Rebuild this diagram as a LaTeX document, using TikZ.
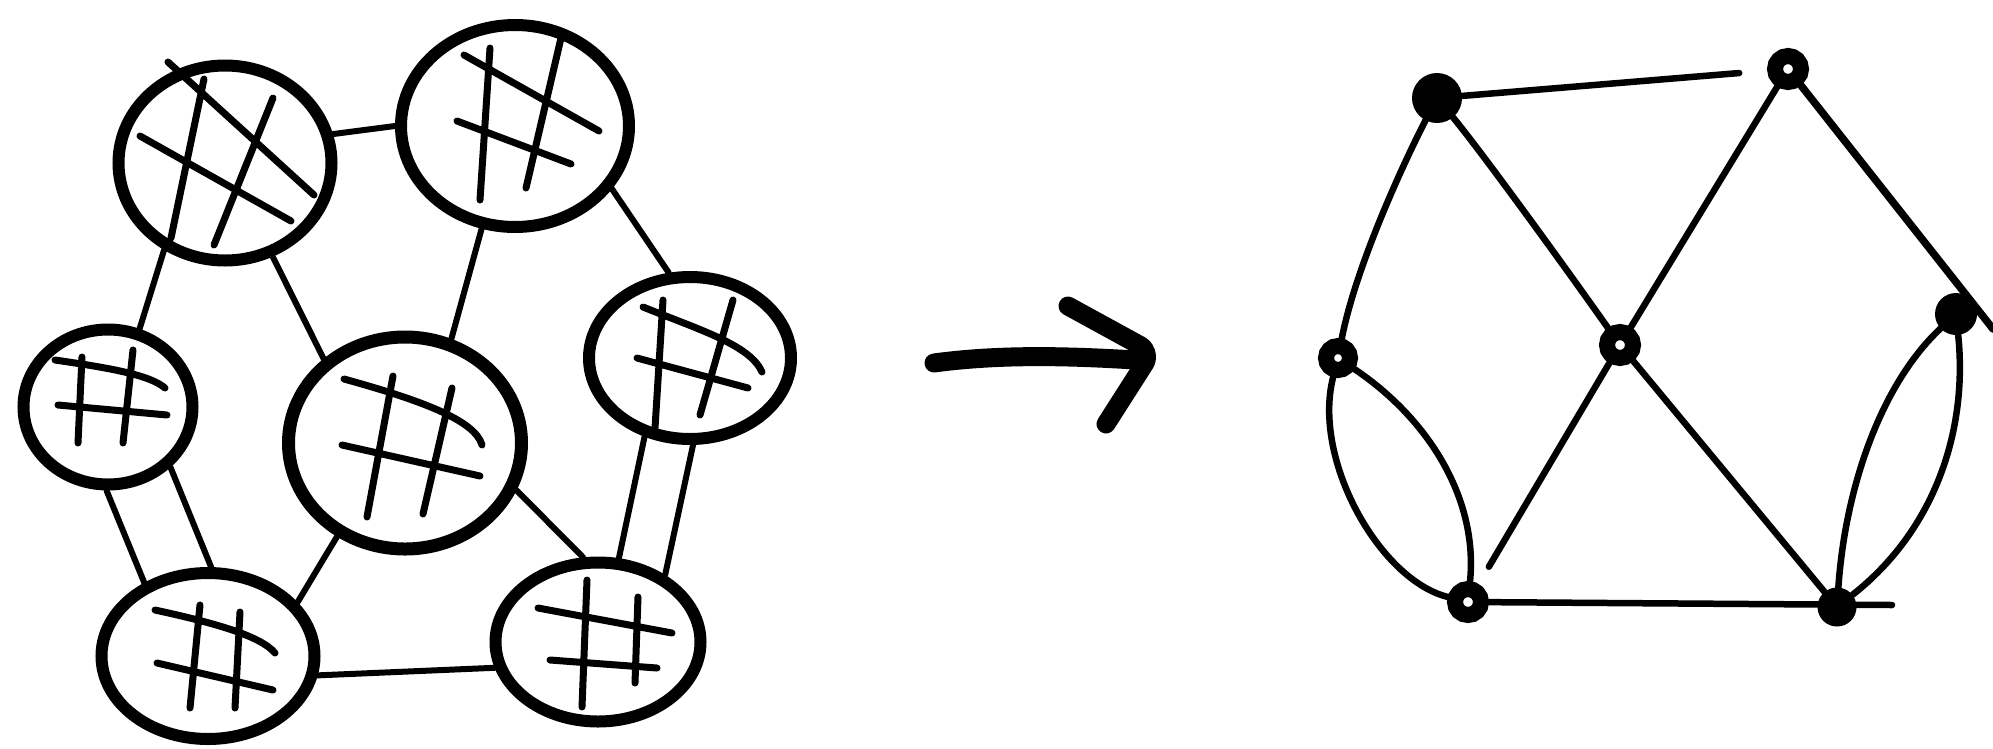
\documentclass[tikz,border=0pt]{standalone}
\usetikzlibrary{shapes.geometric,backgrounds}
\begin{document}
\begin{tikzpicture}[x=1pt,y=-1pt,
  cell/.style={ellipse, draw, line width=12pt, inner sep=0pt},
  link/.style={line width=6pt, line cap=round},
  hash/.style={line width=7pt, line cap=round},
  gedge/.style={line width=6.5pt, line cap=round},
  vfill/.style={circle, fill, draw, line width=2pt, minimum size=42pt, inner sep=0pt},
  vring/.style={circle, draw, fill=white, line width=16pt, minimum size=26pt, inner sep=0pt},
  bigarrow/.style={line width=19pt, line cap=round, line join=round},
]
\useasboundingbox (0,0) rectangle (1993,748);

% ---------- left: cells ----------
\node[cell, minimum width=213pt, minimum height=195pt] (c1) at (225,163) {};
\node[cell, minimum width=228pt, minimum height=202pt] (c2) at (515,126) {};
\node[cell, minimum width=169pt, minimum height=155pt] (c3) at (108,407) {};
\node[cell, minimum width=233pt, minimum height=212pt, line width=13pt] (c4) at (405,443) {};
\node[cell, minimum width=202pt, minimum height=162pt] (c5) at (690,358) {};
\node[cell, minimum width=213pt, minimum height=166pt] (c6) at (208,656) {};
\node[cell, minimum width=205pt, minimum height=159pt] (c7) at (598,642) {};

% hash marks
\draw[hash] (168,62) -- (314,195) (140,136) -- (291,221) (204,79) -- (171,238) (273,98) -- (214,245);
\draw[hash] (464,55) -- (599,131) (457,121) -- (571,164) (490,48) -- (480,200) (561,38) -- (526,188);
\draw[hash] (55,360) .. controls (110,368) and (150,375) .. (165,388) (58,405) -- (167,415) (82,357) -- (78,443) (133,350) -- (123,443);
\draw[hash] (344,379) .. controls (420,400) and (475,420) .. (482,445) (342,445) -- (480,476) (393,376) -- (367,517) (452,388) -- (423,514);
\draw[hash] (643,307) .. controls (700,330) and (750,345) .. (762,372) (637,358) -- (748,388) (663,300) -- (655,428) (733,300) -- (700,415);
\draw[hash] (155,610) .. controls (210,622) and (260,635) .. (275,653) (157,663) -- (273,690) (200,605) -- (190,708) (240,612) -- (235,708);
\draw[hash] (538,608) -- (672,633) (550,660) -- (657,668) (587,580) -- (582,707) (638,597) -- (635,683);

% links
\draw[link] (c1.15) -- (c2.180);
\draw[link] (c1.-125) -- (c3.68);
\draw[link] (c1.-63) -- (c4.134);
\draw[link] (c2.-108) -- (c4.66);
\draw[link] (c2.-33) -- (c5.104);
\draw[link] (c3.-91) -- (c6.131);
\draw[link] (c3.-44) -- (c6.88);
\draw[link] (c4.-126) -- (c6.31);
\draw[link] (c4.-23) -- (c7.100);
\draw[link] (c5.-120) -- (c7.76);
\draw[link] (c5.-88) -- (c7.45);
\draw[link] (c6.-10) -- (c7.-166);

% ---------- arrow ----------
\coordinate (a0) at (934,363);
\coordinate (a1) at (1135,360);
\draw[bigarrow] (a0) .. controls (1000,354) and (1070,356) .. (a1);
\draw[bigarrow, rounded corners=14pt] (1068,306) -- (1152,352) -- (1106,424);

% ---------- right: graph ----------
\node[vfill, minimum size=48pt] (A) at (1437,98) {};
\node[vring] (B) at (1788,69) {};
\node[vring, minimum size=24pt] (C) at (1338,358) {};
\node[vring] (D) at (1620,345) {};
\node[vfill, minimum size=40pt] (E) at (1956,314) {};
\node[vring] (F) at (1468,602) {};
\node[vfill, minimum size=37pt] (G) at (1837,607) {};
\coordinate (Bx) at (1993,329);
\coordinate (Gx) at (1892,605);

\begin{scope}[on background layer]
\draw[gedge, shorten >=28pt] (A) -- (B);
\draw[gedge] (A) .. controls (1400,170) and (1355,270) .. (C);
\draw[gedge] (A) .. controls (1480,150) and (1560,260) .. (D);
\draw[gedge] (B) -- (D);
\draw[gedge, line width=7.5pt] (B) -- (Bx);
\draw[gedge] (C) .. controls (1312,460) and (1380,580) .. (F);
\draw[gedge] (C) .. controls (1430,420) and (1478,500) .. (F);
\draw[gedge, shorten >=20pt] (D) -- (F);
\draw[gedge] (D) -- (G);
\draw[gedge] (F) -- (Gx);
\draw[gedge] (E) .. controls (1880,385) and (1845,490) .. (G);
\draw[gedge] (E) .. controls (1968,430) and (1935,530) .. (G);
\end{scope}
\end{tikzpicture}
\end{document}
